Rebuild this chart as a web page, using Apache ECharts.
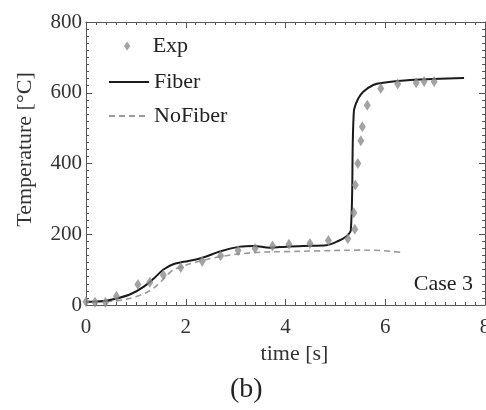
<!DOCTYPE html>
<html>
<head>
<meta charset="utf-8">
<script src="https://cdn.jsdelivr.net/npm/echarts@6/dist/echarts.min.js"></script>
<style>
  html, body { margin: 0; padding: 0; background: #fff; }
  #chart { width: 486px; height: 410px; }
</style>
</head>
<body>
<div id="chart"></div>
<script>
// Measured temperatures (thermocouple) and two simulations, Case 3
const expTime = [0, 0.18, 0.39, 0.61, 1.04, 1.28, 1.55, 1.90, 2.33, 2.70, 3.05, 3.39, 3.74, 4.07, 4.49, 4.86, 5.25, 5.39, 5.37, 5.40, 5.45, 5.51, 5.54, 5.64, 5.91, 6.25, 6.62, 6.78, 6.98];
const expTemp = [9, 8, 8, 25, 58, 64, 85, 106, 124, 139, 154, 160, 167, 172, 174, 182, 187, 214, 261, 339, 400, 464, 504, 565, 612, 625, 628, 632, 632];

const fiberTime = [0, 0.36, 0.63, 0.90, 1.16, 1.36, 1.56, 1.76, 1.96, 2.30, 2.70, 3.09, 3.35, 3.69, 4.02, 4.36, 4.82, 5.03, 5.21, 5.31, 5.37, 5.46, 5.56, 5.76, 5.96, 6.50, 7.58];
const fiberTemp = [9, 11, 19, 31, 52, 75, 101, 116, 122, 132, 152, 165, 167, 162, 165, 167, 169, 179, 193, 212, 546, 584, 603, 622, 628, 636, 642];

const noFiberTime = [0, 0.63, 1.03, 1.30, 1.50, 1.70, 1.90, 2.23, 2.70, 3.35, 4.02, 4.69, 5.43, 5.90, 6.36];
const noFiberTemp = [9, 12, 25, 42, 66, 94, 108, 122, 137, 148, 151, 153, 155, 154, 148];

const xRange = [0, 8];
const yRange = [0, 800];
const xStep = 2;
const yStep = 200;

const zip = (xs, ys) => xs.map((x, i) => [x, ys[i]]);

const serif = '"Liberation Serif", "DejaVu Serif", serif';
const frameColor = '#555';
const textColor = '#333';
const diamond = 'path://M0,-5L3.5,0L0,5L-3.5,0Z';

function makeAxis(type, pos, range, step, showLabel) {
  return {
    type: 'value',
    position: pos,
    min: range[0],
    max: range[1],
    interval: step,
    axisLine: { show: true, onZero: false, lineStyle: { color: frameColor, width: 1 } },
    axisTick: { show: true, inside: true, length: 6, lineStyle: { color: frameColor } },
    minorTick: { show: true, splitNumber: 10, length: 3, lineStyle: { color: frameColor } },
    splitLine: { show: false },
    minorSplitLine: { show: false },
    axisLabel: {
      show: showLabel,
      fontFamily: serif,
      fontSize: 21,
      color: textColor,
      margin: type === 'x' ? 12 : 4,
      hideOverlap: false
    }
  };
}

const xBottom = makeAxis('x', 'bottom', xRange, xStep, true);
xBottom.name = 'time [s]';
xBottom.nameLocation = 'middle';
xBottom.nameGap = 33;
xBottom.nameTextStyle = { fontFamily: serif, fontSize: 22, color: textColor, padding: [0, 0, 0, 18] };

const yLeft = makeAxis('y', 'left', yRange, yStep, true);
yLeft.name = 'Temperature [°C]';
yLeft.nameLocation = 'middle';
yLeft.nameGap = 50;
yLeft.nameTextStyle = { fontFamily: serif, fontSize: 22, color: textColor, padding: [0, 0, 0, 28] };

const legendText = { fontFamily: serif, fontSize: 22, color: '#222' };

const chart = echarts.init(document.getElementById('chart'), null, { renderer: 'canvas' });

chart.setOption({
  backgroundColor: '#fff',
  animation: false,
  grid: { left: 86, right: 1, top: 22, bottom: 105, outerBoundsMode: 'none', containLabel: false },
  xAxis: [xBottom, makeAxis('x', 'top', xRange, xStep, false)],
  yAxis: [yLeft, makeAxis('y', 'right', yRange, yStep, false)],
  legend: [
    {
      data: [{ name: 'Exp', icon: diamond }],
      orient: 'vertical',
      left: 119,
      top: 30,
      itemWidth: 7,
      itemHeight: 9,
      textStyle: Object.assign({ padding: [0, 0, 0, 17] }, legendText),
      selectedMode: false
    },
    {
      data: ['Fiber', 'NoFiber'],
      orient: 'vertical',
      left: 103,
      top: 66,
      itemWidth: 40,
      itemHeight: 14,
      itemGap: 12,
      itemStyle: { opacity: 0 },
      textStyle: legendText,
      selectedMode: false
    }
  ],
  graphic: [
    {
      type: 'text',
      right: 13,
      top: 273,
      style: { text: 'Case 3', font: '22px ' + serif, fill: '#222' }
    },
    {
      type: 'text',
      left: 230,
      top: 376,
      style: { text: '(b)', font: '28px ' + serif, fill: '#222' }
    }
  ],
  series: [
    {
      name: 'NoFiber',
      type: 'line',
      data: zip(noFiberTime, noFiberTemp),
      symbol: 'none',
      smooth: 0.35,
      lineStyle: { color: '#9a9a9a', width: 1.6, type: [6, 4] },
      itemStyle: { color: '#9a9a9a' },
      z: 2
    },
    {
      name: 'Fiber',
      type: 'line',
      data: zip(fiberTime, fiberTemp),
      symbol: 'none',
      smooth: 0.35,
      lineStyle: { color: '#1a1a1a', width: 2 },
      itemStyle: { color: '#1a1a1a' },
      z: 3
    },
    {
      name: 'Exp',
      type: 'scatter',
      data: zip(expTime, expTemp),
      symbol: diamond,
      symbolSize: [7, 11],
      itemStyle: { color: '#8c8c8c' },
      z: 4
    }
  ]
});
</script>
</body>
</html>
